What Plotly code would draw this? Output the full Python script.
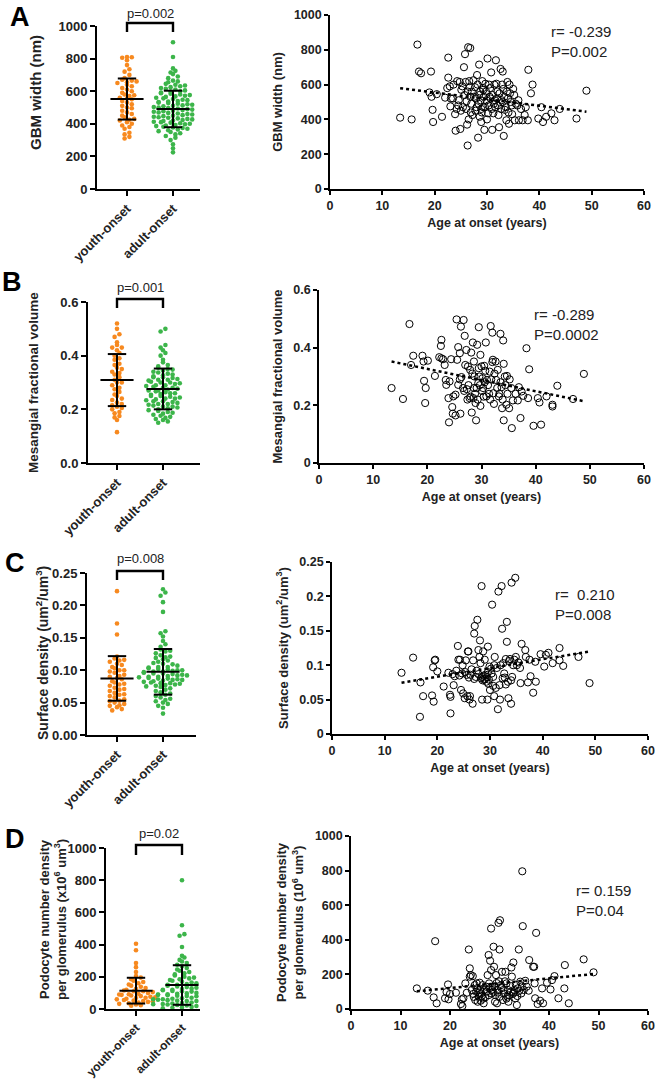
import numpy as np
import plotly.graph_objects as go

# ---------------- DATA ----------------
groups = ["youth-onset", "adult-onset"]

A_youth = [810, 808, 805, 790, 760, 735, 720, 700, 680, 670, 665, 660, 655, 650, 640, 630, 620, 610, 600, 590,
           580, 575, 570, 560, 555, 550, 540, 530, 520, 510, 500, 495, 480, 470, 460, 450, 440, 430, 425, 420,
           410, 400, 390, 380, 370, 345, 335, 320, 310]
A_adult = [900, 810, 740, 725, 715, 705, 690, 680, 665, 660, 655, 645, 640, 635, 630, 625, 620, 615, 610, 605,
           600, 598, 592, 588, 585, 580, 576, 572, 568, 565, 560, 556, 552, 548, 545, 540, 537, 533, 530, 527,
           523, 520, 517, 513, 510, 507, 503, 500, 497, 494, 490, 487, 484, 480, 477, 474, 470, 467, 463, 460,
           457, 453, 450, 447, 443, 440, 437, 433, 430, 427, 423, 420, 417, 413, 410, 407, 403, 400, 397, 393,
           390, 386, 382, 378, 374, 370, 365, 360, 355, 350, 342, 335, 325, 315, 300, 275, 250, 225]
A_mean = [552, 491]
A_sd = [126, 112]
A_scatter = [(13.4, 410), (15.6, 400), (16.7, 830), (17.0, 675), (17.4, 665), (19.0, 555), (19.4, 530), (19.3, 675),
             (19.6, 455), (19.7, 385), (20.4, 545), (21.4, 415), (22.6, 755), (22.6, 640), (22.4, 580), (23.1, 520),
             (23.5, 520), (24.0, 335), (23.9, 430), (24.2, 460), (24.6, 510), (24.8, 615), (24.9, 345), (25.1, 570),
             (25.4, 470), (25.6, 700), (25.8, 775), (25.9, 615), (26.1, 505), (26.2, 370), (26.3, 250), (26.4, 815),
             (26.8, 810), (26.7, 585), (26.5, 400), (26.8, 530), (27.4, 625), (27.2, 425), (27.7, 585), (28.0, 470),
             (28.1, 655), (28.3, 295), (28.5, 715), (28.5, 540), (28.6, 415), (28.8, 510), (28.9, 385), (29.3, 570),
             (29.3, 470), (29.5, 340), (29.7, 605), (29.9, 510), (30.1, 750), (30.2, 435), (30.4, 600), (30.5, 530),
             (30.8, 670), (31.0, 340), (31.2, 435), (31.5, 510), (31.7, 740), (31.8, 605), (32.0, 560), (32.2, 425),
             (32.3, 355), (32.6, 690), (32.8, 510), (33.0, 675), (33.1, 575), (33.2, 305), (33.4, 455), (33.7, 395),
             (33.9, 615), (34.0, 520), (34.2, 375), (34.4, 550), (34.7, 480), (35.0, 575), (35.3, 395), (35.5, 490),
             (36.1, 395), (36.8, 395), (37.2, 425), (37.4, 470), (37.9, 685), (38.4, 550), (38.7, 600), (39.8, 405),
             (40.4, 470), (40.7, 385), (41.3, 415), (42.3, 435), (42.9, 395), (43.9, 460), (47.1, 405), (49.0, 565),
             (37.8, 395), (22.9, 590), (23.6, 600), (24.3, 620), (24.5, 480), (25.0, 450), (25.3, 590), (25.7, 540),
             (26.0, 460), (26.3, 560), (26.6, 620), (27.0, 490), (27.1, 560), (27.5, 530), (27.8, 450), (28.2, 600),
             (28.4, 490), (28.7, 560), (29.0, 440), (29.1, 620), (29.4, 530), (29.6, 470), (29.8, 560), (30.0, 400),
             (30.3, 480), (30.6, 580), (30.9, 460), (31.1, 540), (31.4, 600), (31.6, 470), (31.9, 520), (32.1, 480),
             (32.4, 550), (32.7, 460), (33.0, 500), (33.3, 530), (33.6, 470), (33.8, 560), (34.1, 440), (34.5, 500),
             (34.8, 430), (35.2, 540), (35.8, 480), (36.5, 460), (36.0, 510), (22.0, 525), (23.0, 475), (27.9, 520),
             (29.2, 580), (31.3, 490), (32.9, 600), (34.3, 600), (26.9, 440), (30.7, 520), (28.9, 460)]

B_youth = [0.52, 0.50, 0.48, 0.47, 0.45, 0.44, 0.43, 0.43, 0.42, 0.41, 0.40, 0.39, 0.385, 0.37, 0.365, 0.355, 0.35,
           0.34, 0.335, 0.33, 0.32, 0.31, 0.30, 0.30, 0.29, 0.28, 0.275, 0.265, 0.255, 0.25, 0.24, 0.235, 0.225,
           0.22, 0.215, 0.21, 0.205, 0.20, 0.19, 0.185, 0.175, 0.17, 0.16, 0.115]
B_adult = [0.50, 0.49, 0.44, 0.43, 0.42, 0.41, 0.40, 0.385, 0.375, 0.365, 0.36, 0.355, 0.35, 0.348, 0.345, 0.34,
           0.337, 0.333, 0.33, 0.327, 0.323, 0.32, 0.317, 0.313, 0.31, 0.307, 0.303, 0.30, 0.297, 0.294, 0.29, 0.287,
           0.284, 0.28, 0.277, 0.274, 0.27, 0.267, 0.264, 0.26, 0.257, 0.254, 0.25, 0.247, 0.244, 0.24, 0.237, 0.234,
           0.23, 0.227, 0.224, 0.22, 0.217, 0.214, 0.21, 0.207, 0.204, 0.20, 0.197, 0.194, 0.19, 0.187, 0.184, 0.18,
           0.176, 0.172, 0.168, 0.164, 0.16, 0.155, 0.15, 0.28, 0.26, 0.24, 0.22, 0.30, 0.32, 0.27, 0.25, 0.23, 0.21,
           0.29, 0.31]
B_mean = [0.309, 0.276]
B_sd = [0.097, 0.076]
B_scatter = [(13.4, 0.260), (15.5, 0.222), (16.7, 0.482), (17.0, 0.340), (17.4, 0.372), (19.1, 0.372), (19.3, 0.352),
             (19.4, 0.285), (19.7, 0.260), (19.6, 0.208), (20.1, 0.355), (21.4, 0.302), (22.2, 0.367), (22.6, 0.427),
             (22.5, 0.406), (22.6, 0.363), (22.9, 0.360), (23.2, 0.340), (23.4, 0.288), (23.5, 0.271), (23.9, 0.225),
             (24.0, 0.141), (24.1, 0.283), (24.4, 0.360), (24.6, 0.194), (24.7, 0.171), (24.8, 0.231), (25.2, 0.165),
             (25.2, 0.237), (25.4, 0.498), (25.5, 0.358), (25.7, 0.271), (25.7, 0.402), (26.0, 0.381), (26.1, 0.171),
             (26.2, 0.473), (26.3, 0.298), (26.6, 0.260), (26.7, 0.496), (26.9, 0.441), (27.2, 0.392), (27.3, 0.256),
             (27.5, 0.335), (27.8, 0.225), (27.9, 0.323), (28.1, 0.383), (28.2, 0.175), (28.4, 0.418), (28.6, 0.352),
             (28.6, 0.260), (28.7, 0.300), (28.9, 0.208), (29.0, 0.148), (29.2, 0.410), (29.4, 0.277), (29.5, 0.329),
             (29.5, 0.471), (29.8, 0.375), (29.8, 0.198), (30.0, 0.335), (30.2, 0.294), (30.3, 0.260), (30.5, 0.337),
             (30.8, 0.418), (30.9, 0.231), (31.0, 0.288), (31.5, 0.317), (31.7, 0.475), (32.0, 0.452), (32.1, 0.358),
             (32.2, 0.242), (32.3, 0.205), (32.6, 0.352), (32.7, 0.288), (33.0, 0.323), (33.2, 0.231), (33.5, 0.448),
             (33.7, 0.263), (33.8, 0.190), (34.0, 0.425), (34.1, 0.148), (34.1, 0.344), (34.3, 0.300), (34.6, 0.202),
             (34.7, 0.302), (35.1, 0.190), (35.5, 0.260), (35.6, 0.121), (35.8, 0.217), (36.3, 0.240), (36.7, 0.217),
             (36.9, 0.263), (37.2, 0.156), (37.4, 0.248), (37.7, 0.233), (38.3, 0.398), (38.6, 0.225), (38.8, 0.325),
             (39.6, 0.129), (40.4, 0.225), (40.7, 0.210), (41.0, 0.133), (42.0, 0.231), (43.1, 0.196), (43.1, 0.202),
             (44.0, 0.268), (46.9, 0.222), (48.9, 0.309), (26.0, 0.29), (26.8, 0.25), (27.0, 0.34), (27.6, 0.27),
             (28.0, 0.23), (28.3, 0.31), (28.8, 0.24), (29.1, 0.26), (29.3, 0.22), (29.6, 0.30), (30.1, 0.25),
             (30.4, 0.23), (30.6, 0.28), (31.2, 0.27), (31.4, 0.24), (31.8, 0.29), (32.4, 0.31), (32.9, 0.26),
             (33.3, 0.24), (33.5, 0.28), (33.9, 0.22), (34.4, 0.27), (34.8, 0.24), (35.2, 0.29), (28.5, 0.225),
             (29.7, 0.27), (31.6, 0.22), (27.4, 0.22), (30.7, 0.32), (32.0, 0.35)]

C_youth = [0.222, 0.172, 0.155, 0.121, 0.118, 0.115, 0.113, 0.11, 0.108, 0.105, 0.103, 0.10, 0.098, 0.096, 0.093,
           0.09, 0.088, 0.086, 0.083, 0.081, 0.079, 0.076, 0.073, 0.07, 0.068, 0.065, 0.062, 0.06, 0.058, 0.055,
           0.052, 0.05, 0.048, 0.045, 0.043, 0.04, 0.038, 0.116, 0.1, 0.091, 0.078, 0.071, 0.063, 0.053, 0.046]
C_adult = [0.225, 0.22, 0.215, 0.205, 0.19, 0.16, 0.157, 0.152, 0.145, 0.14, 0.136, 0.132, 0.129, 0.126, 0.123,
           0.121, 0.119, 0.117, 0.115, 0.113, 0.111, 0.109, 0.107, 0.105, 0.104, 0.103, 0.102, 0.101, 0.10, 0.099,
           0.098, 0.097, 0.096, 0.095, 0.094, 0.093, 0.092, 0.091, 0.09, 0.089, 0.088, 0.087, 0.086, 0.085, 0.084,
           0.083, 0.082, 0.081, 0.08, 0.079, 0.078, 0.077, 0.076, 0.075, 0.074, 0.072, 0.07, 0.068, 0.066, 0.064,
           0.062, 0.06, 0.058, 0.056, 0.054, 0.052, 0.05, 0.048, 0.045, 0.042, 0.033, 0.11, 0.1, 0.095, 0.09, 0.085,
           0.08, 0.105, 0.098, 0.092, 0.087, 0.12, 0.13]
C_mean = [0.0873, 0.0975]
C_sd = [0.0344, 0.0352]
C_scatter = [(13.2, 0.089), (15.4, 0.111), (16.7, 0.025), (16.8, 0.075), (17.3, 0.055), (19.0, 0.056), (19.2, 0.097),
             (19.3, 0.047), (19.5, 0.107), (19.6, 0.108), (20.0, 0.091), (21.2, 0.069), (22.1, 0.089), (22.4, 0.057),
             (22.5, 0.054), (22.5, 0.030), (22.9, 0.087), (23.1, 0.071), (23.3, 0.084), (23.9, 0.128), (24.0, 0.108),
             (24.3, 0.108), (24.5, 0.064), (24.7, 0.088), (24.8, 0.100), (24.9, 0.059), (25.2, 0.052), (25.4, 0.107),
             (25.6, 0.086), (25.7, 0.055), (25.8, 0.120), (25.9, 0.120), (26.1, 0.050), (26.2, 0.055), (26.3, 0.086),
             (26.7, 0.044), (26.8, 0.107), (27.0, 0.146), (27.1, 0.157), (27.3, 0.083), (27.6, 0.166), (27.8, 0.122),
             (28.0, 0.112), (28.1, 0.136), (28.2, 0.103), (28.4, 0.215), (28.5, 0.083), (28.5, 0.050), (28.7, 0.120),
             (28.9, 0.079), (29.0, 0.108), (29.2, 0.086), (29.5, 0.050), (29.6, 0.127), (29.7, 0.073), (29.9, 0.098),
             (30.0, 0.064), (30.3, 0.088), (30.4, 0.188), (30.6, 0.083), (30.8, 0.055), (30.9, 0.112), (31.1, 0.067),
             (31.5, 0.036), (31.6, 0.207), (31.9, 0.050), (32.2, 0.215), (32.3, 0.153), (32.4, 0.081), (32.5, 0.103),
             (32.7, 0.088), (33.0, 0.109), (33.2, 0.163), (33.2, 0.134), (33.4, 0.076), (33.5, 0.052), (33.8, 0.109),
             (34.0, 0.044), (34.1, 0.220), (34.2, 0.083), (34.4, 0.100), (34.8, 0.227), (34.9, 0.112), (35.1, 0.100),
             (35.7, 0.096), (35.8, 0.074), (36.0, 0.131), (36.7, 0.122), (36.8, 0.112), (37.2, 0.075), (37.5, 0.108),
             (37.7, 0.084), (38.2, 0.060), (38.6, 0.105), (38.7, 0.076), (39.6, 0.116), (40.3, 0.098), (40.6, 0.115),
             (41.1, 0.118), (41.9, 0.103), (43.2, 0.125), (43.2, 0.107), (43.9, 0.099), (46.8, 0.112), (48.9, 0.074),
             (28.3, 0.081), (28.6, 0.078), (28.8, 0.085), (29.1, 0.080), (29.3, 0.076), (29.4, 0.083), (29.8, 0.079),
             (27.8, 0.087), (27.5, 0.092), (26.5, 0.094), (25.3, 0.090), (30.2, 0.095), (31.3, 0.096), (32.0, 0.100),
             (33.6, 0.106), (34.6, 0.108), (35.4, 0.104), (33.0, 0.072), (31.8, 0.071), (30.6, 0.070), (24.2, 0.085),
             (23.6, 0.092), (26.0, 0.082), (27.0, 0.080), (32.8, 0.082), (34.0, 0.078), (29.6, 0.090), (30.8, 0.100)]

D_youth = [405, 365, 285, 260, 230, 205, 195, 185, 175, 168, 160, 152, 145, 138, 130, 125, 120, 115, 110, 105, 100,
           95, 92, 88, 84, 80, 76, 72, 68, 64, 60, 56, 52, 48, 44, 40, 36, 32, 28, 24, 20, 110, 90, 70, 50]
D_adult = [800, 520, 465, 455, 385, 330, 320, 305, 295, 285, 275, 265, 255, 245, 238, 230, 222, 215, 208, 200, 195,
           190, 185, 180, 175, 170, 165, 160, 155, 150, 145, 140, 136, 132, 128, 124, 120, 116, 112, 108, 104, 100,
           97, 94, 91, 88, 85, 82, 79, 76, 73, 70, 67, 64, 61, 58, 55, 52, 49, 46, 43, 40, 37, 34, 31, 28, 25, 22,
           19, 16, 13, 10, 7, 5, 120, 100, 80, 60, 40, 110, 90, 70, 50, 30, 150, 130]
D_mean = [114, 149]
D_sd = [80, 123]
D_scatter = [(13.3, 119), (15.5, 106), (16.7, 67), (17.0, 392), (17.3, 33), (19.0, 62), (19.3, 98), (19.6, 142),
             (19.7, 56), (20.0, 87), (21.2, 94), (22.2, 29), (22.4, 56), (22.5, 17), (22.7, 62), (23.1, 148),
             (23.4, 94), (23.8, 344), (24.0, 235), (24.0, 187), (24.2, 196), (24.4, 110), (24.6, 190), (24.7, 87),
             (25.0, 138), (25.1, 52), (25.3, 100), (25.4, 148), (25.6, 42), (25.8, 71), (26.0, 152), (26.1, 110),
             (26.2, 48), (26.4, 75), (26.6, 138), (26.8, 33), (26.9, 110), (27.1, 67), (27.3, 129), (27.6, 196),
             (27.8, 312), (27.9, 148), (28.1, 279), (28.3, 465), (28.3, 225), (28.5, 110), (28.6, 129), (28.8, 360),
             (28.9, 244), (29.1, 42), (29.3, 196), (29.5, 33), (29.6, 110), (29.8, 498), (30.0, 344), (30.1, 513),
             (30.3, 138), (30.5, 215), (30.7, 52), (30.8, 110), (31.2, 215), (31.4, 148), (31.6, 71), (31.8, 42),
             (32.2, 133), (32.4, 240), (32.5, 187), (32.7, 87), (32.8, 269), (33.0, 110), (33.2, 62), (33.5, 23),
             (33.7, 119), (33.9, 344), (34.2, 158), (34.4, 90), (34.6, 796), (34.7, 479), (34.9, 110), (35.2, 163),
             (35.5, 129), (35.9, 106), (36.0, 283), (36.8, 244), (37.0, 244), (37.1, 148), (37.2, 62), (37.4, 440),
             (37.7, 29), (38.2, 48), (38.6, 119), (38.8, 33), (39.6, 152), (40.3, 113), (40.6, 167), (41.1, 190),
             (41.9, 62), (43.1, 119), (43.2, 254), (44.0, 33), (47.0, 287), (49.0, 212), (28.0, 120), (28.4, 90),
             (28.7, 100), (29.0, 130), (29.2, 80), (29.4, 150), (29.7, 95), (30.0, 70), (30.4, 120), (30.9, 90),
             (31.1, 160), (31.7, 110), (32.0, 80), (32.3, 100), (32.9, 95), (33.3, 140), (33.6, 75), (34.0, 105),
             (34.5, 130), (25.5, 120), (26.3, 90), (26.7, 60), (27.4, 100), (27.8, 80), (24.8, 70), (25.9, 95),
             (29.9, 160), (31.4, 60)]

p_labels = ["p=0.002", "p=0.001", "p=0.008", "p=0.02"]
r_labels = ["r= -0.239<br>P=0.002", "r= -0.289<br>P=0.0002", "r=  0.210<br>P=0.008", "r= 0.159<br>P=0.04"]
panel_letters = ["A", "B", "C", "D"]
left_titles = ["GBM width (nm)", "Mesangial fractional volume",
               "Surface density (um<sup>2</sup>/um<sup>3</sup>)",
               "Podocyte number density<br>per glomerulus (x10<sup>6</sup> um<sup>3</sup>)"]
right_titles = ["GBM width (nm)", "Mesangial fractional volume",
                "Surface density (um<sup>2</sup>/um<sup>3</sup>)",
                "Podocyte number density<br>per glomerulus (10<sup>6</sup> um<sup>3</sup>)"]
x_title = "Age at onset (years)"
left_ticks = [[0, 200, 400, 600, 800, 1000], [0, 0.2, 0.4, 0.6], [0, 0.05, 0.1, 0.15, 0.2, 0.25],
              [0, 200, 400, 600, 800, 1000]]
left_ticktext = [["0", "200", "400", "600", "800", "1000"], ["0.0", "0.2", "0.4", "0.6"],
                 ["0.00", "0.05", "0.10", "0.15", "0.20", "0.25"], ["0", "200", "400", "600", "800", "1000"]]
right_ticktext = [["0", "200", "400", "600", "800", "1000"], ["0", "0.2", "0.4", "0.6"],
                  ["0", "0.05", "0.1", "0.15", "0.2", "0.25"], ["0", "200", "400", "600", "800", "1000"]]
y_max = [1000, 0.6, 0.25, 1000]
age_ticks = [0, 10, 20, 30, 40, 50, 60]

# ---------------- LAYOUT (pixel geometry of 655x1080 page) ----------------
W, H = 655, 1080
ORANGE = "#F7891F"
GREEN = "#3CB54A"
FONT = "Liberation Sans, Arial, sans-serif"
TXT = "#222222"

# left panels: (axis x px, right end px, top px, bottom px, youth-x px)
left_geom = [(97, 200, 26, 189, 127), (88, 200, 302, 463, 117), (87, 196, 573, 735, 117), (106, 200, 848, 1009, 136)]
right_geom = [(330, 644, 15, 189), (319, 644, 290, 463), (332, 648, 562, 734), (351, 648, 836, 1009)]
CAT_PX = 46.0  # pixel distance between the two categories
bracket_px = [(23, 32), (299, 308), (571, 580), (845, 855)]   # (top px, leg-bottom px)
p_px = [13, 287, 558, 833]
r_pos = [(549, 42), (532, 324), (553, 604), (574, 900)]
letter_pos = [(20, 17), (12, 282), (15, 563), (15, 839)]
ltitle_pos = [(35, 93), (33, 383), (42, 653), (53, 920)]
ltitle_size = [15, 13.5, 14, 13]
xtick_size = [13, 13, 13, 12]

youth = [A_youth, B_youth, C_youth, D_youth]
adult = [A_adult, B_adult, C_adult, D_adult]
means = [A_mean, B_mean, C_mean, D_mean]
sds = [A_sd, B_sd, C_sd, D_sd]
scatters = [A_scatter, B_scatter, C_scatter, D_scatter]


def swarm(vals, px_per_unit, d=4.8):
    v = np.asarray(vals, dtype=float)
    bins = np.floor(v * px_per_unit / d).astype(int)
    off = np.zeros(len(v))
    for b in np.unique(bins):
        idx = np.where(bins == b)[0]
        n = len(idx)
        order = idx[np.argsort(v[idx])]
        pos = (np.arange(n) - (n - 1) / 2.0) * d
        pos_sorted = np.concatenate([pos[::2], pos[1::2][::-1]]) if n > 2 else pos
        off[order] = pos_sorted
    return off


fig = go.Figure()
layout = dict(width=W, height=H, margin=dict(l=0, r=0, t=0, b=0, pad=0, autoexpand=False),
              paper_bgcolor="white", autosize=False, template="none",
              plot_bgcolor="white", showlegend=False, annotations=[], shapes=[])

for i in range(4):
    lx0, lx1, ly0, ly1, ycat = left_geom[i]
    rx0, rx1, ry0, ry1 = right_geom[i]
    la, ra = 2 * i + 1, 2 * i + 2
    lxa, lya = f"x{la}", f"y{la}"
    rxa, rya = f"x{ra}", f"y{ra}"
    ppu = (ly1 - ly0) / y_max[i]

    # ---- left dot plot ----
    for g, (vals, col) in enumerate([(youth[i], ORANGE), (adult[i], GREEN)]):
        off = swarm(vals, ppu) / CAT_PX
        fig.add_trace(go.Scatter(x=g + off, y=vals, mode="markers", xaxis=lxa, yaxis=lya,
                                 marker=dict(size=4.6, color=col, line=dict(width=0)), cliponaxis=False))
    ex, ey = [], []
    for g in range(2):
        m, s = means[i][g], sds[i][g]
        ex += [g - 0.36, g + 0.36, None, g, g, None, g - 0.2, g + 0.2, None, g - 0.2, g + 0.2, None]
        ey += [m, m, None, m - s, m + s, None, m - s, m - s, None, m + s, m + s, None]
    fig.add_trace(go.Scatter(x=ex, y=ey, mode="lines", xaxis=lxa, yaxis=lya,
                             line=dict(color="black", width=2), cliponaxis=False))
    # significance bracket (above the plotting area)
    bt, bb = bracket_px[i]
    layout["shapes"].append(dict(type="path", xref=lxa, yref="paper",
                                 path=f"M 0,{1 - bb / H} L 0,{1 - bt / H} L 1,{1 - bt / H} L 1,{1 - bb / H}",
                                 line=dict(color="black", width=2.4)))
    layout["annotations"].append(dict(x=0.5, y=1 - p_px[i] / H, xref=lxa, yref="paper", text=p_labels[i],
                                      showarrow=False, yanchor="middle",
                                      font=dict(family=FONT, size=13, color=TXT)))
    tx, ty = ltitle_pos[i]
    layout["annotations"].append(dict(x=tx / W, y=1 - ty / H, xref="paper", yref="paper", text=left_titles[i],
                                      showarrow=False, textangle=-90, xanchor="center", yanchor="middle",
                                      font=dict(family=FONT, size=ltitle_size[i], color=TXT, weight="bold")))

    xl = (lx0 - ycat) / CAT_PX
    xr = (lx1 - ycat) / CAT_PX
    layout[f"xaxis{la}"] = dict(domain=[lx0 / W, lx1 / W], range=[xl, xr], anchor=lya, automargin=False,
                                tickvals=[0, 1], ticktext=groups, tickangle=-45,
                                showline=True, linecolor="black", linewidth=2, ticks="outside",
                                ticklen=5, tickwidth=2, tickcolor="black", showgrid=False, zeroline=False,
                                tickfont=dict(family=FONT, size=xtick_size[i], color=TXT, weight="bold"))
    layout[f"yaxis{la}"] = dict(domain=[1 - ly1 / H, 1 - ly0 / H], range=[0, y_max[i]], anchor=lxa,
                                automargin=False, tickvals=left_ticks[i], ticktext=left_ticktext[i],
                                showline=True, linecolor="black", linewidth=2, ticks="outside",
                                ticklen=5, tickwidth=2, tickcolor="black", showgrid=False, zeroline=False,
                                tickfont=dict(family=FONT, size=13, color=TXT, weight="bold"))

    # ---- right scatter ----
    ages = np.array([p[0] for p in scatters[i]])
    vals = np.array([p[1] for p in scatters[i]])
    fig.add_trace(go.Scatter(x=ages, y=vals, mode="markers", xaxis=rxa, yaxis=rya,
                             marker=dict(symbol="circle", size=7.2, color="rgba(255,255,255,0)",
                                         line=dict(color="black", width=1)), cliponaxis=False))
    k, c = np.polyfit(ages, vals, 1)
    fx = np.array([ages.min(), ages.max()])
    fig.add_trace(go.Scatter(x=fx, y=k * fx + c, mode="lines", xaxis=rxa, yaxis=rya,
                             line=dict(color="black", width=2.5, dash="dot")))
    layout[f"xaxis{ra}"] = dict(domain=[rx0 / W, rx1 / W], range=[0, 60], anchor=rya, tickvals=age_ticks,
                                automargin=False,
                                showline=True, linecolor="black", linewidth=1.6, ticks="outside",
                                ticklen=4, tickwidth=1.6, tickcolor="black", showgrid=False, zeroline=False,
                                tickfont=dict(family=FONT, size=12.5, color=TXT, weight="bold"),
                                title=dict(text=x_title, standoff=6,
                                           font=dict(family=FONT, size=12.5, color=TXT, weight="bold")))
    layout[f"yaxis{ra}"] = dict(domain=[1 - ry1 / H, 1 - ry0 / H], range=[0, y_max[i]], anchor=rxa,
                                automargin=False, tickvals=left_ticks[i], ticktext=right_ticktext[i],
                                showline=True, linecolor="black", linewidth=1.6, ticks="outside",
                                ticklen=4, tickwidth=1.6, tickcolor="black", showgrid=False, zeroline=False,
                                tickfont=dict(family=FONT, size=12.5, color=TXT, weight="bold"),
                                title=dict(text=right_titles[i], standoff=8,
                                           font=dict(family=FONT, size=13, color=TXT, weight="bold")))
    rxp, ryp = r_pos[i]
    layout["annotations"].append(dict(x=rxp / W, y=1 - ryp / H, xref="paper", yref="paper", text=r_labels[i],
                                      showarrow=False, xanchor="left", yanchor="middle", align="left",
                                      font=dict(family=FONT, size=15, color=TXT)))
    lpx, lpy = letter_pos[i]
    layout["annotations"].append(dict(x=lpx / W, y=1 - lpy / H, xref="paper", yref="paper",
                                      text=f"<b>{panel_letters[i]}</b>", showarrow=False,
                                      xanchor="center", yanchor="middle",
                                      font=dict(family=FONT, size=27, color="black")))

fig.update_layout(**layout)
fig.write_html("out.html", config={"responsive": False, "displayModeBar": False})

# remove default page margins so the 655x1080 figure fills the window exactly
with open("out.html", "r", encoding="utf-8") as f:
    html = f.read()
html = html.replace("<head>", "<head><style>html,body{margin:0;padding:0;overflow:hidden;}</style>", 1)
with open("out.html", "w", encoding="utf-8") as f:
    f.write(html)
